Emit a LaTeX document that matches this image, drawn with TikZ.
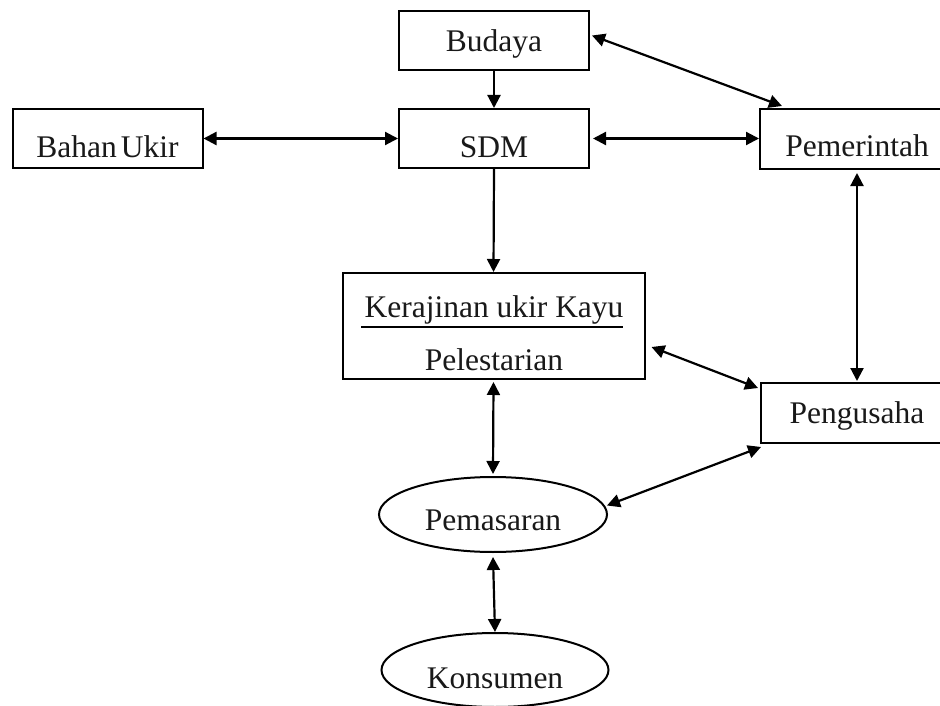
\documentclass[tikz,border=0pt]{standalone}
\usepackage{fontspec}
\setmainfont{Liberation Serif}
\usetikzlibrary{arrows.meta,shapes.geometric}
\begin{document}
\begin{tikzpicture}[x=1pt,y=-1pt,
  every node/.style={font=\fontsize{31.5}{38}\selectfont, text=black!90},
  box/.style={draw, line width=2pt, rectangle, inner xsep=0pt, inner ysep=0pt, minimum width=190pt},
  oval/.style={draw, line width=2pt, ellipse, inner sep=0pt},
  conn/.style={line width=2.2pt, -{Triangle[length=13pt,width=13pt]}},
  bi/.style={line width=2.2pt, {Triangle[length=13pt,width=13pt]}-{Triangle[length=13pt,width=13pt]}},
]
\clip (0,0) rectangle (940,706);
\fill[white] (0,0) rectangle (940,706);

% boxes
\node[box, text height=41pt, text depth=18pt] (bud) at (494,40.5) {Budaya};
\node[box, text height=49pt, text depth=10pt] (sdm) at (494,138.5) {SDM};
\node[box, text height=49pt, text depth=10pt] (bah) at (107.5,138.5) {Bahan\hspace{4pt}Ukir};
\node[box, minimum width=194pt, text height=48pt, text depth=12pt] (pem) at (857,139) {Pemerintah};
\node[box, minimum width=192pt, text height=40pt, text depth=20pt] (pgs) at (857,413) {Pengusaha};

% Kerajinan box with two lines
\node[box, minimum width=302pt, minimum height=106pt] (ker) at (493.5,326) {};
\node[anchor=base, inner sep=0pt] (kert) at (494,317) {Kerajinan ukir Kayu};
\node[anchor=base, inner sep=0pt] (kerp) at (494,370) {Pelestarian};
\draw[line width=2pt] ([xshift=-3pt,yshift=-10pt]kert.base west) -- ([xshift=-1pt,yshift=-10pt]kert.base east);

% ellipses
\node[oval, minimum width=228pt, minimum height=75pt, text height=31pt, text depth=0pt] (pms) at (493,514.5) {Pemasaran};
\node[oval, minimum width=227pt, minimum height=74pt, text height=36pt, text depth=0pt] (kon) at (495,670) {Konsumen};

% connectors
\draw[conn] (bud.south) -- (sdm.north);
\draw[bi] (bah.east) -- (sdm.west);
\draw[bi] ([xshift=3pt]sdm.east) -- ([yshift=0.5pt]pem.west);
\draw[bi] ([xshift=2pt,yshift=5pt]bud.east) -- ([xshift=-75pt,yshift=2pt]pem.north);
\draw[conn] (sdm.south) -- (ker.north);
\draw[bi] ([yshift=-3pt]pem.south) -- ([yshift=1pt]pgs.north);
\draw[bi] ([xshift=6pt,yshift=-21pt]ker.east) -- ([xshift=-2pt,yshift=25pt]pgs.west);
\draw[bi] ([xshift=1pt,yshift=-3pt]pgs.south west) -- ([xshift=-1pt,yshift=9pt]pms.east);
\draw[bi] ([yshift=-2pt]ker.south) -- ([yshift=2pt]pms.north);
\draw[bi] ([yshift=-4pt]pms.south) -- (kon.north);
\end{tikzpicture}
\end{document}
